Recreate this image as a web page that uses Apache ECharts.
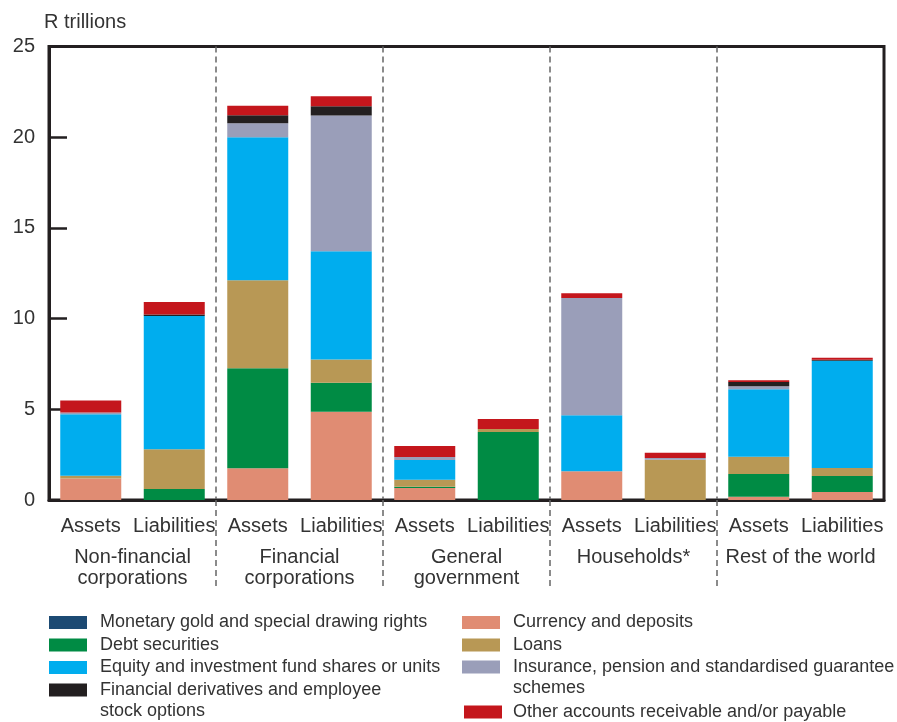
<!DOCTYPE html>
<html>
<head>
<meta charset="utf-8">
<script src="https://cdn.jsdelivr.net/npm/echarts@6/dist/echarts.min.js"></script>
<style>html,body{margin:0;padding:0;background:#fff;}#chart{width:897px;height:722px;}</style>
</head>
<body>
<div id="chart"></div>
<script>
// ---- data ----
const categories = ['Assets', 'Liabilities', 'Assets', 'Liabilities', 'Assets', 'Liabilities', 'Assets', 'Liabilities', 'Assets', 'Liabilities'];
const groups = ['Non-financial\ncorporations', 'Financial\ncorporations', 'General\ngovernment', 'Households*', 'Rest of the world'];
const yTicks = [0, 5, 10, 15, 20, 25];

const monetaryGold = [0, 0, 0, 0, 0, 0, 0, 0, 0, 0];
const currencyDeposits = [1.18, 0, 1.75, 4.87, 0.66, 0, 1.58, 0, 0.18, 0.44];
const debtSecurities = [0, 0.6, 5.51, 1.6, 0.07, 3.75, 0, 0, 1.25, 0.88];
const loans = [0.15, 2.2, 4.86, 1.28, 0.39, 0.17, 0, 2.22, 0.96, 0.45];
const equity = [3.4, 7.34, 7.88, 5.96, 1.08, 0, 3.09, 0, 3.71, 5.9];
const insurance = [0.1, 0, 0.77, 7.49, 0.17, 0, 6.47, 0.09, 0.17, 0];
const derivatives = [0, 0.08, 0.44, 0.5, 0, 0, 0, 0, 0.23, 0.06];
const otherAccounts = [0.66, 0.7, 0.52, 0.56, 0.6, 0.55, 0.26, 0.29, 0.1, 0.11];

const names = {
  gold: 'Monetary gold and special drawing rights',
  debt: 'Debt securities',
  equity: 'Equity and investment fund shares or units',
  deriv: 'Financial derivatives and employee stock options',
  currency: 'Currency and deposits',
  loans: 'Loans',
  ins: 'Insurance, pension and standardised guarantee schemes',
  other: 'Other accounts receivable and/or payable'
};
const colors = {
  gold: '#1c4a73', debt: '#008b44', equity: '#00adee', deriv: '#231f20',
  currency: '#e08c73', loans: '#b89855', ins: '#9a9eb9', other: '#c4161c'
};
const legendLabels = {};
legendLabels[names.deriv] = 'Financial derivatives and employee\nstock options';
legendLabels[names.ins] = 'Insurance, pension and standardised guarantee\nschemes';

// category boundaries (0..10) for the dashed group separators
const boundaries = categories.map((c, i) => String(i)).concat([String(categories.length)]);

// ---- chart ----
const chart = echarts.init(document.getElementById('chart'), null, {renderer: 'canvas'});
const FONT = 'Liberation Sans';
const TXT = '#333333';
const AX = '#231f20';

function bar(key, data) {
  return {
    name: names[key], type: 'bar', stack: 'total', data: data,
    barWidth: 61, xAxisIndex: 0, yAxisIndex: 0,
    itemStyle: {color: colors[key]}, emphasis: {disabled: true}
  };
}

const tallIcon = 'path://M0,0h0.01v0.01h-0.01z M0,4h38v13h-38z M37.99,41.99h0.01v0.01h-0.01z';
const legendBase = {
  orient: 'vertical', padding: 0, itemWidth: 38, itemHeight: 13, itemGap: 0,
  selectedMode: false,
  formatter: n => legendLabels[n] || n,
  textStyle: {fontFamily: FONT, fontSize: 18, color: TXT, lineHeight: 22.5, padding: [0, 0, 0, 8]}
};
function tallLegend(name, left, top) {
  return Object.assign({}, legendBase, {
    left: left, top: top, itemHeight: 42,
    data: [{name: name, icon: tallIcon}],
    textStyle: Object.assign({}, legendBase.textStyle, {lineHeight: 21})
  });
}
const sepInterval = (i) => i > 0 && i < categories.length && i % 2 === 0;
const dashStyle = {color: '#666', width: 1.5, type: [6, 4]};

const option = {
  animation: false,
  textStyle: {fontFamily: FONT},
  title: {
    text: 'R trillions', left: 44, top: 12.5, padding: 0,
    textStyle: {fontFamily: FONT, fontSize: 20, fontWeight: 'normal', color: TXT}
  },
  grid: {left: 49, right: 13, top: 46.5, bottom: 222, show: true, borderColor: AX, borderWidth: 3, containLabel: false},
  legend: [
    Object.assign({}, legendBase, {left: 49, top: 611.25, data: [names.gold, names.debt, names.equity].map(n => ({name: n, icon: 'rect'}))}),
    tallLegend(names.deriv, 49, 679.5),
    Object.assign({}, legendBase, {left: 462, top: 611.25, data: [names.currency, names.loans].map(n => ({name: n, icon: 'rect'}))}),
    tallLegend(names.ins, 462, 656.5),
    Object.assign({}, legendBase, {left: 464, top: 700.75, data: [{name: names.other, icon: 'rect'}],
      textStyle: Object.assign({}, legendBase.textStyle, {padding: [0, 0, 0, 6]})})
  ],
  xAxis: [
    {
      type: 'category', data: categories, position: 'bottom', gridIndex: 0,
      axisLine: {show: true, lineStyle: {color: AX, width: 3}},
      axisTick: {show: false},
      splitLine: {show: false},
      axisLabel: {interval: 0, margin: 15.5, fontSize: 20, lineHeight: 21, color: TXT, fontFamily: FONT}
    },
    {
      type: 'category', data: groups, position: 'bottom', gridIndex: 0, offset: 38,
      axisLine: {show: false}, axisTick: {show: false}, splitLine: {show: false},
      axisLabel: {interval: 0, margin: 8.5, fontSize: 20, lineHeight: 21, color: TXT, fontFamily: FONT}
    },
    {
      type: 'category', data: boundaries, boundaryGap: false, position: 'bottom', gridIndex: 0,
      axisLine: {show: false}, axisLabel: {show: false},
      axisTick: {show: true, inside: false, length: 90, interval: sepInterval, lineStyle: dashStyle},
      splitLine: {show: true, interval: sepInterval, lineStyle: dashStyle}
    }
  ],
  yAxis: {
    type: 'value', min: yTicks[0], max: yTicks[yTicks.length - 1], interval: 5,
    axisLine: {show: true, lineStyle: {color: AX, width: 3}},
    axisTick: {show: true, inside: true, length: 18, lineStyle: {color: AX, width: 2.5}},
    splitLine: {show: false},
    axisLabel: {margin: 14, fontSize: 20, color: TXT, fontFamily: FONT}
  },
  series: [
    bar('gold', monetaryGold),
    bar('currency', currencyDeposits),
    bar('debt', debtSecurities),
    bar('loans', loans),
    bar('equity', equity),
    bar('ins', insurance),
    bar('deriv', derivatives),
    bar('other', otherAccounts)
  ]
};
chart.setOption(option);
</script>
</body>
</html>
